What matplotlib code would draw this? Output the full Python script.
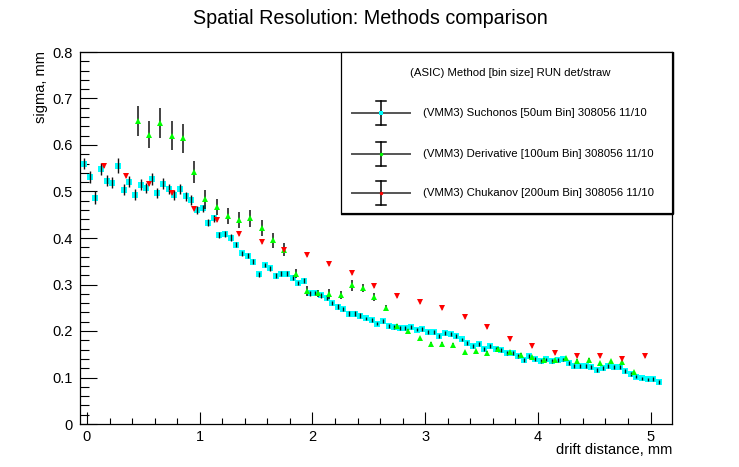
import matplotlib
matplotlib.use("Agg")
import matplotlib.pyplot as plt
from matplotlib.ticker import MultipleLocator, FuncFormatter
from matplotlib.patches import Rectangle

plt.rcParams['font.family'] = ['Liberation Sans', 'DejaVu Sans']

# ---------------- data ----------------
suchonos_x = [
    -0.025, 0.025, 0.075, 0.125, 0.175, 0.225, 0.275, 0.325, 0.375, 0.425,
    0.475, 0.525, 0.575, 0.625, 0.675, 0.725, 0.775, 0.825, 0.875, 0.925,
    0.975, 1.025, 1.075, 1.125, 1.175, 1.225, 1.275, 1.325, 1.375, 1.425,
    1.475, 1.525, 1.575, 1.625, 1.675, 1.725, 1.775, 1.825, 1.875, 1.925,
    1.975, 2.025, 2.075, 2.125, 2.175, 2.225, 2.275, 2.325, 2.375, 2.425,
    2.475, 2.525, 2.575, 2.625, 2.675, 2.725, 2.775, 2.825, 2.875, 2.925,
    2.975, 3.025, 3.075, 3.125, 3.175, 3.225, 3.275, 3.325, 3.375, 3.425,
    3.475, 3.525, 3.575, 3.625, 3.675, 3.725, 3.775, 3.825, 3.875, 3.925,
    3.975, 4.025, 4.075, 4.125, 4.175, 4.225, 4.275, 4.325, 4.375, 4.425,
    4.475, 4.525, 4.575, 4.625, 4.675, 4.725, 4.775, 4.825, 4.875, 4.925,
    4.975, 5.025, 5.075,
]
suchonos_y = [
    0.560, 0.532, 0.487, 0.548, 0.523, 0.519, 0.555, 0.504, 0.521, 0.493,
    0.515, 0.508, 0.527, 0.497, 0.517, 0.505, 0.492, 0.506, 0.490, 0.482,
    0.460, 0.464, 0.433, 0.442, 0.406, 0.409, 0.401, 0.386, 0.367, 0.362,
    0.349, 0.322, 0.342, 0.335, 0.319, 0.323, 0.323, 0.315, 0.303, 0.308,
    0.281, 0.282, 0.277, 0.272, 0.260, 0.252, 0.247, 0.237, 0.237, 0.233,
    0.227, 0.224, 0.216, 0.221, 0.211, 0.209, 0.206, 0.206, 0.209, 0.203,
    0.205, 0.198, 0.198, 0.189, 0.196, 0.194, 0.189, 0.182, 0.174, 0.168,
    0.172, 0.161, 0.168, 0.161, 0.159, 0.153, 0.153, 0.146, 0.137, 0.146,
    0.140, 0.136, 0.139, 0.135, 0.138, 0.139, 0.131, 0.125, 0.125, 0.125,
    0.122, 0.116, 0.120, 0.125, 0.122, 0.122, 0.114, 0.107, 0.102, 0.098,
    0.096, 0.097, 0.090,
]
suchonos_err = [
    0.012, 0.013, 0.014, 0.013, 0.012, 0.012, 0.016, 0.012, 0.012, 0.012,
    0.011, 0.011, 0.012, 0.011, 0.011, 0.011, 0.011, 0.011, 0.010, 0.010,
    0.009, 0.008, 0.008, 0.008, 0.007, 0.007, 0.007, 0.006, 0.006, 0.006,
    0.005, 0.005, 0.005, 0.005, 0.005, 0.005, 0.005, 0.005, 0.005, 0.005,
    0.005, 0.005, 0.005, 0.005, 0.005, 0.005, 0.005, 0.005, 0.005, 0.005,
    0.004, 0.004, 0.004, 0.004, 0.004, 0.004, 0.004, 0.004, 0.004, 0.004,
    0.004, 0.004, 0.004, 0.004, 0.004, 0.004, 0.004, 0.004, 0.004, 0.004,
    0.004, 0.004, 0.004, 0.004, 0.004, 0.004, 0.004, 0.004, 0.004, 0.004,
    0.004, 0.004, 0.004, 0.004, 0.004, 0.004, 0.004, 0.004, 0.004, 0.004,
    0.004, 0.004, 0.004, 0.004, 0.004, 0.004, 0.004, 0.004, 0.004, 0.004,
    0.004, 0.004, 0.004,
]

derivative_x = [
    0.45, 0.55, 0.65, 0.75, 0.85, 0.95, 1.05, 1.15, 1.25, 1.35,
    1.45, 1.55, 1.65, 1.75, 1.85, 1.95, 2.05, 2.15, 2.25, 2.35,
    2.45, 2.55, 2.65, 2.75, 2.85, 2.95, 3.05, 3.15, 3.25, 3.35,
    3.45, 3.55, 3.65, 3.75, 3.85, 3.95, 4.05, 4.15, 4.25, 4.35,
    4.45, 4.55, 4.65, 4.75, 4.85,
]
derivative_y = [
    0.652, 0.622, 0.647, 0.620, 0.614, 0.542, 0.483, 0.466, 0.447, 0.439,
    0.442, 0.421, 0.395, 0.375, 0.323, 0.286, 0.281, 0.280, 0.277, 0.298,
    0.292, 0.273, 0.249, 0.211, 0.201, 0.184, 0.173, 0.172, 0.170, 0.154,
    0.156, 0.152, 0.161, 0.155, 0.149, 0.144, 0.138, 0.137, 0.142, 0.136,
    0.138, 0.131, 0.135, 0.133, 0.111,
]
derivative_err = [
    0.032, 0.029, 0.032, 0.031, 0.031, 0.024, 0.020, 0.017, 0.017, 0.017,
    0.018, 0.017, 0.016, 0.014, 0.010, 0.011, 0.008, 0.011, 0.009, 0.011,
    0.009, 0.008, 0.006, 0.004, 0.004, 0.004, 0.004, 0.004, 0.004, 0.004,
    0.004, 0.004, 0.004, 0.003, 0.003, 0.003, 0.003, 0.003, 0.003, 0.003,
    0.003, 0.003, 0.003, 0.003, 0.003,
]

chukanov_x = [
    0.15, 0.35, 0.55, 0.75, 0.95, 1.15, 1.35, 1.55, 1.75, 1.95,
    2.15, 2.35, 2.55, 2.75, 2.95, 3.15, 3.35, 3.55, 3.75, 3.95,
    4.15, 4.35, 4.55, 4.75, 4.95,
]
chukanov_y = [
    0.555, 0.534, 0.517, 0.497, 0.462, 0.438, 0.408, 0.392, 0.375, 0.363,
    0.345, 0.325, 0.296, 0.276, 0.262, 0.249, 0.231, 0.208, 0.182, 0.168,
    0.153, 0.146, 0.147, 0.139, 0.147,
]
chukanov_err = [0.002] * 25

legend_header = "(ASIC) Method [bin size] RUN det/straw"
legend_labels = [
    "(VMM3) Suchonos [50um Bin] 308056 11/10",
    "(VMM3) Derivative [100um Bin] 308056 11/10",
    "(VMM3) Chukanov [200um Bin] 308056 11/10",
]
title = "Spatial Resolution: Methods comparison"
xlabel = "drift distance, mm"
ylabel = "sigma, mm"

# ---------------- figure ----------------
W, H = 739, 467
fig = plt.figure(figsize=(W / 100, H / 100), dpi=100)
fig.patch.set_facecolor('white')

ax = fig.add_axes([80 / W, 43 / H, 592 / W, 372 / H])
ax.set_xlim(-0.062, 5.19)
ax.set_ylim(0, 0.8)

# Suchonos: error bars over the markers (as in ROOT output)
ax.plot(suchonos_x, suchonos_y, linestyle='none', marker='s', color='#00ffff',
        markersize=4.6, markeredgewidth=0, zorder=3)
ax.errorbar(suchonos_x, suchonos_y, yerr=suchonos_err, fmt='none',
            ecolor='#111111', elinewidth=1.0, capsize=0, zorder=4)

# Derivative
ax.errorbar(derivative_x, derivative_y, yerr=derivative_err, fmt='none',
            ecolor='#111111', elinewidth=1.1, capsize=0, zorder=5)
ax.plot(derivative_x, derivative_y, linestyle='none', marker='^',
        color='#00ff00', markersize=4.4, markeredgewidth=0, zorder=6)

# Chukanov
ax.errorbar(chukanov_x, chukanov_y, yerr=chukanov_err, fmt='none',
            ecolor='#111111', elinewidth=0.8, capsize=0, zorder=7)
ax.plot(chukanov_x, chukanov_y, linestyle='none', marker='v',
        color='#ff0000', markersize=4.4, markeredgewidth=0, zorder=8)

ax.xaxis.set_major_locator(MultipleLocator(1))
ax.xaxis.set_minor_locator(MultipleLocator(0.2))
ax.yaxis.set_major_locator(MultipleLocator(0.1))
ax.yaxis.set_minor_locator(MultipleLocator(0.02))
ax.xaxis.set_major_formatter(FuncFormatter(lambda v, p: f"{v:g}"))
ax.yaxis.set_major_formatter(FuncFormatter(lambda v, p: f"{round(v, 2):g}"))

ax.tick_params(axis='both', which='both', direction='in', top=False, right=False,
               width=0.8, labelsize=10.5, colors='black')
ax.tick_params(axis='x', which='major', length=9, pad=4)
ax.tick_params(axis='x', which='minor', length=4.5)
ax.tick_params(axis='y', which='major', length=12, pad=5)
ax.tick_params(axis='y', which='minor', length=6.5)
for s in ax.spines.values():
    s.set_linewidth(0.9)
    s.set_color('black')

fig.text(370 / W, 1 - 19 / H, title, ha='center', va='center', fontsize=14.2)
fig.text(672 / W, 1 - 450 / H, xlabel, ha='right', va='center', fontsize=10.5)
fig.text(41 / W, 1 - 51 / H, ylabel, ha='center', va='top', rotation=90,
         fontsize=10.5)

# ---------------- legend (pixel overlay) ----------------
ov = fig.add_axes([0, 0, 1, 1], zorder=10)
ov.set_xlim(0, W)
ov.set_ylim(H, 0)
ov.axis('off')
ov.patch.set_alpha(0)

ov.add_patch(Rectangle((341, 52), 332, 162, facecolor='white', edgecolor='black',
                       linewidth=0.9, zorder=1))
ov.plot([341, 673], [214, 214], color='black', lw=1.6, zorder=2,
        solid_capstyle='butt')
ov.plot([673, 673], [52, 214], color='black', lw=1.6, zorder=2,
        solid_capstyle='butt')
ov.text(510, 73, legend_header, ha='center', va='center', fontsize=8.2, zorder=3)

entry_y = [113, 154, 193]
entry_markers = [('s', '#00ffff', 3.5), ('o', '#00ff00', 2.5), ('o', '#ff0000', 2.5)]
for yy, lab, (mk, col, ms) in zip(entry_y, legend_labels, entry_markers):
    ov.plot([352, 410], [yy, yy], color='#555555', lw=1.4, zorder=3)
    ov.plot([381, 381], [yy - 12, yy + 12], color='black', lw=1.1, zorder=4)
    ov.plot([376, 386], [yy - 12, yy - 12], color='black', lw=1.1, zorder=4)
    ov.plot([376, 386], [yy + 12, yy + 12], color='black', lw=1.1, zorder=4)
    ov.plot([381], [yy], marker=mk, color=col, markersize=ms, markeredgewidth=0,
            zorder=5)
    ov.text(423, yy, lab, ha='left', va='center', fontsize=8.2, zorder=3)

fig.savefig('out.png', dpi=100)
